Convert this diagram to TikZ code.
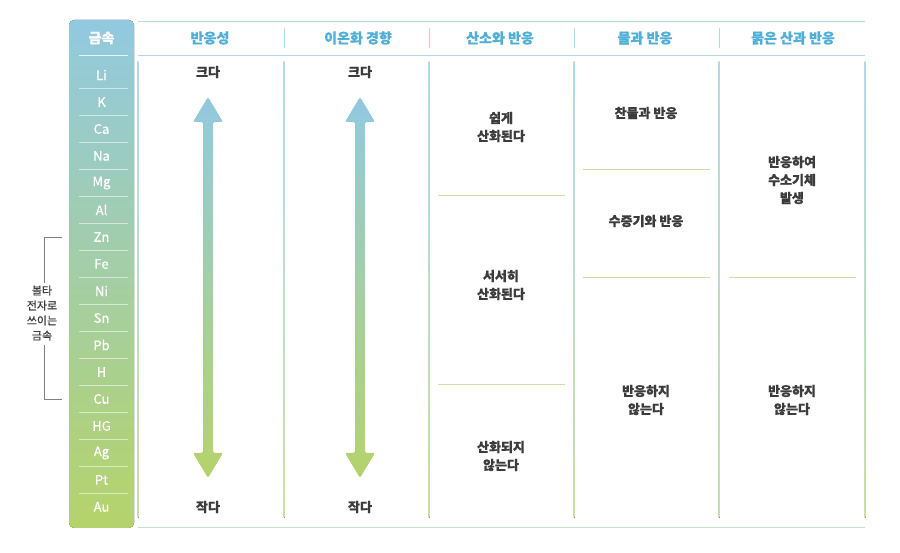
\documentclass[tikz,border=0pt]{standalone}
\usepackage{fontspec}
\setmainfont[FakeBold=0.6]{Noto Sans CJK KR}
\usetikzlibrary{positioning}
\definecolor{topblue}{HTML}{92C9E0}
\definecolor{botgreen}{HTML}{B5D36A}
\definecolor{headblue}{HTML}{4FAFD6}
\definecolor{txtgray}{HTML}{3C3C3C}
\definecolor{rulegreen}{HTML}{C8E0A6}
\tikzset{
  metal/.style={text=white, font=\fontsize{13}{15}\selectfont},
  colhead/.style={text=headblue, font=\bfseries\fontsize{14}{16}\selectfont},
  cell/.style={text=txtgray, align=center, font=\bfseries\fontsize{13}{18}\selectfont},
  sepline/.style={draw=rulegreen, line width=0.7pt},
  headline/.style={draw=topblue!70, line width=0.8pt},
  vbar/.style={top color=topblue!70, bottom color=rulegreen, draw=none},
}
\begin{document}
\begin{tikzpicture}[x=1pt,y=1pt]
        \useasboundingbox (0,0) rectangle (900,553);
        % metals column
        \fill[rounded corners=5pt, top color=topblue, bottom color=botgreen] (69,533) rectangle (134,25);
        \node[metal, font=\bfseries\fontsize{14}{16}\selectfont] (metals) at (101.5,515) {금속};
        \draw[white!80!topblue, line width=0.8pt] (79,498) -- (128,498);
        \foreach \m [count=\i from 0] in {Li,K,Ca,Na,Mg,Al,Zn,Fe,Ni,Sn,Pb,H,Cu,HG,Ag,Pt,Au} {
            \node[metal] (m\i) at (101.5,478-27*\i) {\m};
        }
        \foreach \i in {0,...,15}
            \draw[white, opacity=0.55, line width=0.7pt] (79,464.5-27*\i) -- (128,464.5-27*\i);

        % table frame
        \draw[headline] (138,532) -- (865,532);
        \draw[headline] (138,498) -- (865,498);
        \draw[draw=botgreen!40!topblue!60, line width=0.8pt] (138,26) -- (865,26);
        \foreach \x in {284,429,574,719}
            \draw[headline] (\x,525) -- (\x,505);
        \foreach \x in {138,284,429,574,719,865}
            \fill[vbar] (\x-0.5,491) rectangle (\x+0.5,35);

        % headers
        \node[colhead] (react) at (210,515) {반응성};
        \node[colhead] (ion) at (358,515) {이온화 경향};
        \node[colhead] (oxy) at (500,515) {산소와 반응};
        \node[colhead] (water) at (645,515) {물과 반응};
        \node[colhead] (acid) at (793,515) {묽은 산과 반응};

        % arrows
        \foreach \x/\n in {208/a,360/b} {
            \node[cell] (big\n) at (\x,481) {크다};
            \node[cell] (small\n) at (\x,46) {작다};
            \shade[top color=topblue, bottom color=botgreen, rounded corners=1.5pt]
                (\x,456) -- (\x+15,431) -- (\x+5,431) -- (\x+5,100) -- (\x+15,100)
                -- (\x,75) -- (\x-15,100) -- (\x-5,100) -- (\x-5,431) -- (\x-15,431) -- cycle;
        }

        % oxygen column
        \node[cell] (oxy1) at (501,426) {쉽게\\산화된다};
        \draw[sepline] (438,358) -- (565,358);
        \node[cell] (oxy2) at (501,268) {서서히\\산화된다};
        \draw[sepline] (438,169) -- (565,169);
        \node[cell] (oxy3) at (501,97) {산화되지\\않는다};

        % water column
        \node[cell] (wat1) at (646,440) {찬물과 반응};
        \draw[sepline] (583,384) -- (710,384);
        \node[cell] (wat2) at (646,332) {수증기와 반응};
        \draw[sepline] (583,276) -- (710,276);
        \node[cell] (wat3) at (646,153) {반응하지\\않는다};

        % acid column
        \node[cell] (acd1) at (792,373) {반응하여\\수소기체\\발생};
        \draw[sepline] (729,276) -- (856,276);
        \node[cell] (acd2) at (792,153) {반응하지\\않는다};

        % volta bracket
        \node[cell, font=\fontsize{11}{15}\selectfont] (volta) at (42,240) {볼타\\전자로\\쓰이는\\금속};
        \draw[gray, line width=0.8pt] (62,316) -- (44,316) -- (44,270);
        \draw[gray, line width=0.8pt] (44,208) -- (44,154) -- (62,154);
\end{tikzpicture}
\end{document}
